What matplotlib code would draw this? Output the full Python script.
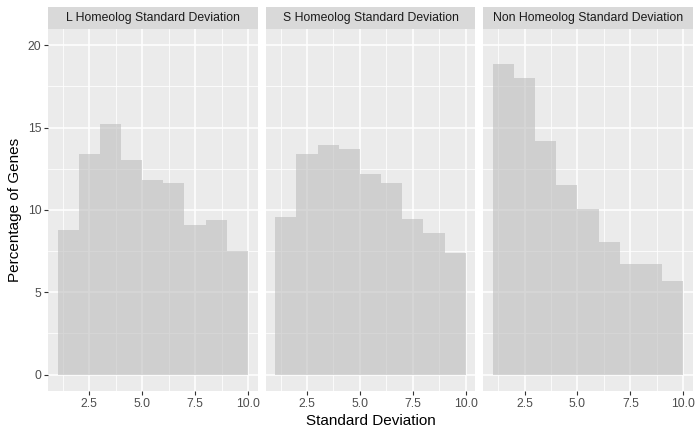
"""Faceted histograms of homeolog standard deviation (ggplot-like look)."""

import matplotlib

matplotlib.use("Agg")
import matplotlib.pyplot as plt
import numpy as np

# --- data ---
bin_edges = [1, 2, 3, 4, 5, 6, 7, 8, 9, 10]
panel_titles = [
    "L Homeolog Standard Deviation",
    "S Homeolog Standard Deviation",
    "Non Homeolog Standard Deviation",
]
l_homeolog = [8.75, 13.37, 15.24, 13.05, 11.81, 11.61, 9.08, 9.40, 7.50]
s_homeolog = [9.58, 13.41, 13.96, 13.70, 12.16, 11.65, 9.46, 8.61, 7.36]
non_homeolog = [18.89, 18.04, 14.20, 11.53, 10.07, 8.06, 6.73, 6.73, 5.71]
x_ticks = [2.5, 5.0, 7.5, 10.0]
y_ticks = [0, 5, 10, 15, 20]

series = [l_homeolog, s_homeolog, non_homeolog]

plt.rcParams["font.family"] = ["Liberation Sans", "DejaVu Sans"]

fig = plt.figure(figsize=(7, 4.32), dpi=100)

lefts = [48 / 700, 265.7 / 700, 483.3 / 700]
width = 209.5 / 700
bottom = 41 / 432
height = 361.7 / 432
strip_h = 22 / 432

edges = np.array(bin_edges, dtype=float)
for i, (title, vals) in enumerate(zip(panel_titles, series)):
    ax = fig.add_axes([lefts[i], bottom, width, height])
    ax.set_facecolor("#EBEBEB")
    ax.set_xlim(0.55, 10.45)
    ax.set_ylim(-1.0, 20.97)

    ax.set_xticks(x_ticks)
    ax.set_xticks([1.25, 3.75, 6.25, 8.75], minor=True)
    ax.set_yticks(y_ticks)
    ax.set_yticks([2.5, 7.5, 12.5, 17.5], minor=True)
    ax.grid(which="major", color="white", linewidth=1.1)
    ax.grid(which="minor", color="white", linewidth=0.55)
    ax.set_axisbelow(True)

    ax.bar(
        edges[:-1],
        vals,
        width=np.diff(edges),
        align="edge",
        color="#bdbdbd",
        alpha=0.6,
        linewidth=0,
    )

    for s in ax.spines.values():
        s.set_visible(False)
    ax.tick_params(which="minor", length=0)
    ax.tick_params(which="major", length=2.75, width=0.8, color="#333333",
                   labelsize=8.8, labelcolor="#4D4D4D", pad=2)
    ax.set_xticklabels([f"{t:.1f}" for t in x_ticks])
    if i == 0:
        ax.set_yticklabels([str(t) for t in y_ticks])
        ax.set_ylabel("Percentage of Genes", fontsize=11, color="black", labelpad=4)
    else:
        ax.tick_params(axis="y", left=False, labelleft=False)
    if i == 1:
        ax.set_xlabel("Standard Deviation", fontsize=11, color="black", labelpad=3)

    # facet strip
    sax = fig.add_axes([lefts[i], bottom + height, width, strip_h])
    sax.set_facecolor("#D9D9D9")
    sax.set_xticks([])
    sax.set_yticks([])
    for s in sax.spines.values():
        s.set_visible(False)
    sax.text(0.5, 0.5, title, ha="center", va="center", fontsize=8.8,
             color="#1A1A1A", transform=sax.transAxes)

fig.savefig("out.png", dpi=100)
